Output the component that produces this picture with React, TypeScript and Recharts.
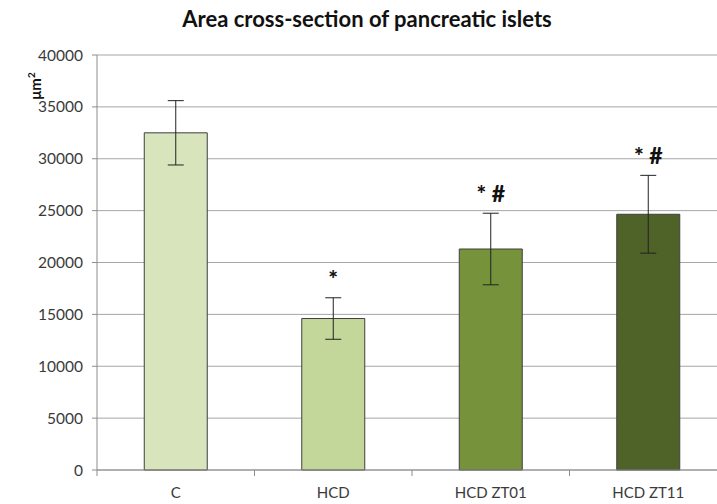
import React from 'react';
import { BarChart, Bar, XAxis, YAxis, CartesianGrid, ErrorBar, Cell, LabelList, Label } from 'recharts';

const groups = ['C', 'HCD', 'HCD ZT01', 'HCD ZT11'];
const areaMeans = [32500, 14600, 21300, 24650];
const areaErrors = [3100, 2000, 3450, 3750];
const marks = ['', '*', '* #', '* #'];
const yTicks = [0, 5000, 10000, 15000, 20000, 25000, 30000, 35000, 40000];

const barColors = ['#D8E4BC', '#C4D79B', '#76933C', '#4F6228'];
const font = 'Lato, "Open Sans", sans-serif';

const data = groups.map((g, i) => ({ group: g, area: areaMeans[i], err: areaErrors[i], mark: marks[i] }));

const CHART_W = 740;
const PLOT_LEFT = 97;
const PLOT_RIGHT = 13;
const band = (CHART_W - PLOT_LEFT - PLOT_RIGHT) / groups.length;

function CategoryTick(props: any) {
  const { x, y, payload } = props;
  return (
    <g>
      <line x1={x - band / 2} x2={x - band / 2} y1={y - 8} y2={y - 2} stroke="#8c8c8c" />
      <text x={x} y={y + 20} textAnchor="middle" fontSize={15} fontFamily={font} fill="#3a3a3a">
        {payload.value}
      </text>
    </g>
  );
}

function MarkLabel(props: any) {
  const { x, y, width, height, value, index } = props;
  if (!value) return null;
  const top = y - (areaErrors[index] * height) / areaMeans[index];
  return (
    <text x={x + width / 2} y={top - 11} textAnchor="middle" fontSize={23} fontWeight="900" fontFamily={font} fill="#111">
      {value}
    </text>
  );
}

export default function App() {
  return (
    <div style={{ position: 'absolute', left: 0, top: 0, width: 717, height: 504, overflow: 'hidden', background: '#fff' }}>
      <div
        style={{
          position: 'absolute',
          left: 0,
          width: 734,
          top: 5,
          textAlign: 'center',
          fontFamily: font,
          fontWeight: 'bold',
          fontSize: 22,
          color: '#111',
        }}
      >
        Area cross-section of pancreatic islets
      </div>
      <BarChart
        width={CHART_W}
        height={504}
        data={data}
        margin={{ top: 55, right: PLOT_RIGHT, bottom: 0, left: 0 }}
        barCategoryGap="30%"
      >
        <CartesianGrid vertical={false} stroke="#a6a6a6" />
        <XAxis
          dataKey="group"
          height={34}
          stroke="#8c8c8c"
          tickLine={false}
          tick={<CategoryTick />}
          interval={0}
        />
        <YAxis
          width={PLOT_LEFT}
          domain={[0, 40000]}
          ticks={yTicks}
          interval={0}
          stroke="#8c8c8c"
          tickSize={5}
          tickMargin={9}
          tick={{ fill: '#3a3a3a', fontSize: 15.5, fontFamily: font }}
        >
          <Label
            content={() => (
              <text x={0} y={0} transform="translate(41,86) rotate(-90)" textAnchor="middle" fontSize={15} fontWeight="bold" fontFamily={font} fill="#111">
                μm<tspan dy={-6} fontSize={10}>2</tspan>
              </text>
            )}
          />
        </YAxis>
        <Bar dataKey="area" isAnimationActive={false} stroke="#3f3f3f" strokeWidth={1}>
          {data.map((d, i) => (
            <Cell key={d.group} fill={barColors[i]} />
          ))}
          <ErrorBar dataKey="err" width={8} stroke="#222" strokeWidth={1} direction="y" />
          <LabelList dataKey="mark" content={<MarkLabel />} />
        </Bar>
      </BarChart>
    </div>
  );
}
